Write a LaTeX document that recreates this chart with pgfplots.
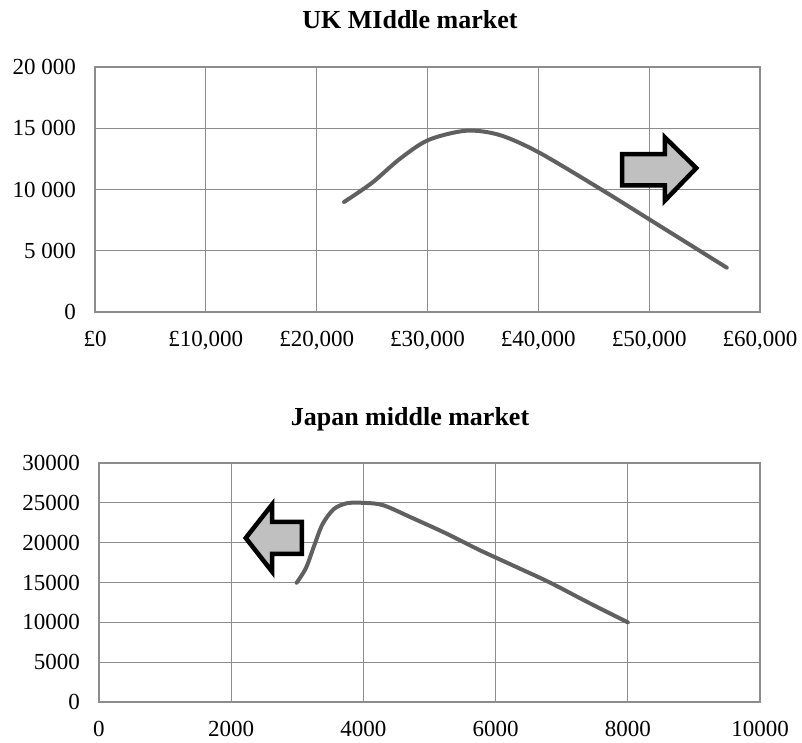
\documentclass[border=0pt]{standalone}
\usepackage{pgfplots}
\pgfplotsset{compat=1.18}
\usepackage{fontspec}
\setmainfont{Liberation Serif}
\definecolor{gridgray}{HTML}{8C8C8C}
\definecolor{curvegray}{HTML}{606060}
\definecolor{arrowfill}{HTML}{C0C0C0}
\pgfplotsset{
  myaxis/.style={
    scale only axis,
    scaled ticks=false,
    axis line style={gridgray, line width=1.2pt},
    grid=major,
    grid style={gridgray, line width=1.2pt},
    major tick length=0pt,
    tick style={draw=none},
    every tick label/.append style={inner sep=0pt, font=\fontsize{23}{27}\selectfont},
    /pgf/number format/assume math mode=true,
    xticklabel style={yshift=-19pt},
    yticklabel style={xshift=-19pt},
    clip=false,
  }
}
\begin{document}
\begin{tikzpicture}[x=1pt,y=1pt]
\path[use as bounding box] (0,0) rectangle (802,-742);
\node[font=\bfseries\fontsize{26}{30}\selectfont, anchor=base] at (410,-28) {UK MIddle market};
\node[font=\bfseries\fontsize{26}{30}\selectfont, anchor=base] at (410,-425) {Japan middle market};
\begin{axis}[myaxis,
  at={(95pt,-312pt)}, anchor=south west,
  width=665pt, height=245pt,
  xmin=0, xmax=60000, ymin=0, ymax=20000,
  xtick={0,10000,20000,30000,40000,50000,60000},
  xticklabels={{£0},{£10,000},{£20,000},{£30,000},{£40,000},{£50,000},{£60,000}},
  ytick={0,5000,10000,15000,20000},
  yticklabels={{0},{5 000},{10 000},{15 000},{20 000}},
]
\addplot[curvegray, line width=4pt, smooth, line cap=round] coordinates {
(22470,8980) (25000,10550) (27500,12500) (30100,14050) (33500,14800)
(36500,14450) (40000,13050) (45500,10100) (50000,7570) (57000,3620)
};
\draw[line width=4.5pt, fill=arrowfill, line join=miter]
 (axis cs:47560,12880) -- (axis cs:51420,12880) -- (axis cs:51420,14250)
 -- (axis cs:54250,11750) -- (axis cs:51420,9100) -- (axis cs:51420,10330)
 -- (axis cs:47560,10330) -- cycle;
\end{axis}
\begin{axis}[myaxis,
  at={(99pt,-702pt)}, anchor=south west,
  width=661pt, height=239pt,
  xmin=0, xmax=10000, ymin=0, ymax=30000,
  xtick={0,2000,4000,6000,8000,10000},
  xticklabels={{0},{2000},{4000},{6000},{8000},{10000}},
  ytick={0,5000,10000,15000,20000,25000,30000},
  yticklabels={{0},{5000},{10000},{15000},{20000},{25000},{30000}},
]
\addplot[curvegray, line width=4pt, smooth, line cap=round] coordinates {
(2990,14970) (3130,16800) (3250,19500) (3380,22300) (3550,24200) (3750,24950)
(4000,25000) (4300,24700) (4750,23060) (5250,21170) (5750,19100) (6300,17000)
(6820,15000) (7400,12500) (8000,10000)
};
\draw[line width=4.5pt, fill=arrowfill, line join=miter]
 (axis cs:3070,22600) -- (axis cs:2620,22600) -- (axis cs:2620,24800)
 -- (axis cs:2220,20590) -- (axis cs:2620,16350) -- (axis cs:2620,18600)
 -- (axis cs:3070,18600) -- cycle;
\end{axis}
\end{tikzpicture}
\end{document}
